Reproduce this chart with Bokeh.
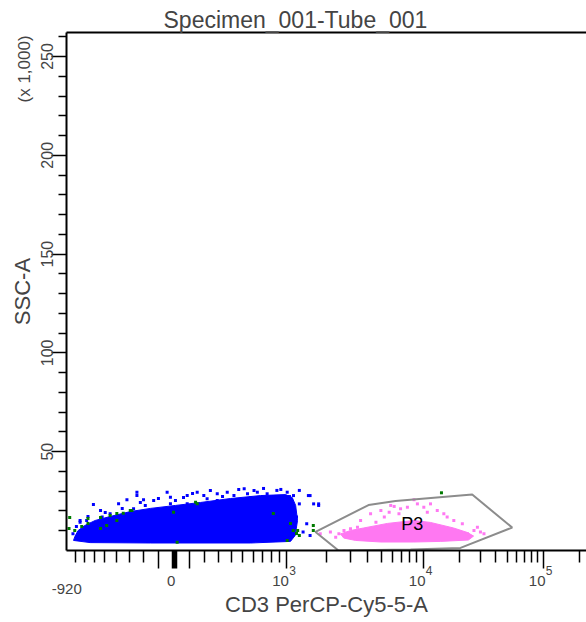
import numpy as np
from bokeh.plotting import figure
from bokeh.models import (Range1d, FixedTicker, LinearAxis, CustomJSTickFormatter)
from bokeh.core.properties import value
from bokeh.embed import file_html
from bokeh.resources import INLINE

# ---------------- data (x: CD3 PerCP-Cy5-5-A raw units, y: SSC-A in thousands) ----------------
title_text = "Specimen_001-Tube_001"
x_label = "CD3 PerCP-Cy5-5-A"
y_label = "SSC-A"
y_scale_note = "(x 1,000)"

# dense core of the blue (ungated) population
blue_core_x = [-830, -813, -775, -697, -591, -454, -294, -154, 8, 172, 394, 676, 986, 1110,
               1180, 1220, 1170, 1075, 575, -154, -643]
blue_core_y = [5.1, 7.1, 10.1, 12.7, 15.2, 17.2, 19.7, 21.3, 22.8, 24.3, 26.3, 27.8, 28.3, 26.8,
               22.8, 15.2, 7.6, 4.6, 3.8, 3.8, 4.0]
# sparse blue events around the core
blue_x = [-837, -795, -752, -752, -679, -609, -540, -525, -454, -384, -319, -270, -246, -246,
          -200, -188, -166, -132, -45, -24, -24, 8, 84, 84, 150, 195, 218, 291, 291, 368, 423,
          513, 544, 608, 642, 676, 750, 787, 869, 1013, 1075, 1136, 1198, 1260, 1346, 1434,
          1476, 1520, 1616, 1761, 1260, 1520, 1761,
          60, 119, 241, 331, 464, 575, 709, 811, 921, 1056, -355, -222, -101, -497, -665]
blue_y = [8.5, 12.1, 15.2, 14.3, 15.2, 23.3, 20.2, 16.9, 18.6, 23.6, 25.7, 21.1, 27.8, 29.5,
          25.7, 22.8, 18.6, 25.3, 29.5, 27.0, 23.6, 25.3, 27.8, 23.6, 29.5, 27.8, 26.2, 28.7,
          25.3, 29.5, 27.8, 31.2, 28.7, 30.4, 29.5, 25.3, 28.7, 17.7, 30.4, 29.5, 25.3, 27.8,
          16.9, 23.6, 9.3, 13.5, 27.8, 7.6, 23.6, 23.6, 30.4, 27.8, 22.8,
          26.8, 28.8, 30.4, 27.3, 30.9, 26.8, 31.4, 26.8, 30.9, 27.3, 21.3, 24.3, 26.3, 19.2, 17.2]
# green events
green_x = [-878, -887, -815, -733, -665, -665, -540, -540, -484, -454, -398, -398, -347, -294,
           -282, -4, 19, 139, 150, 824, 1013, 1075, 1130, 1198, 1223, 1260, 1607, 1607, 14200]
green_y = [16.7, 11.1, 10.1, 12.1, 13.7, 16.2, 16.7, 11.1, 12.7, 17.7, 18.7, 15.2, 18.9, 20.2,
           20.2, 19.4, 4.2, 24.4, 23.6, 18.7, 5.1, 13.7, 10.1, 8.6, 10.1, 7.6, 12.7, 10.1, 29.2]
# dense core of the pink P3 population
pink_core_x = [2547, 3010, 3750, 5550, 8570, 11500, 17900, 23400, 26300, 23800, 13900, 8570,
               4980, 3270, 2690]
pink_core_y = [8.4, 10.1, 11.4, 13.7, 15.2, 14.2, 11.4, 9.1, 7.3, 5.3, 4.6, 4.3, 4.3, 5.1, 6.3]
# sparse pink events
pink_x = [1810, 2150, 2350, 2480, 2700, 2855, 3010, 3380, 3560, 4200, 4590, 4980, 5270, 5710,
          5860, 6200, 6710, 6890, 7710, 8600, 9090, 10120, 10820, 11500, 13100, 14860, 15840,
          18000, 21200, 23370, 26500, 28300, 30000, 32100]
pink_y = [8.5, 9.3, 6.7, 8.5, 10.1, 6.7, 11.0, 11.8, 15.2, 18.6, 14.3, 20.2, 16.9, 19.4, 22.8,
          22.3, 18.6, 21.1, 21.9, 25.7, 23.6, 21.9, 19.4, 23.6, 20.2, 18.6, 16.9, 15.2, 13.5,
          8.5, 10.1, 11.8, 9.3, 8.5]
# gate P3
gate_x = [1669, 4058, 6338, 25611, 55170, 20464, 8115, 2463]
gate_y = [9.4, 23.0, 25.0, 28.3, 11.6, 1.3, 0.5, 0.0]
gate_name = "P3"
gate_name_x = [8345]
gate_name_y = [13.5]

# axis ticks
x_major_values = [-100, 0, 100, 1000, 10000, 100000]
x_label_values = [0, 1000, 10000, 100000]
x_label_bases = ["0", "10", "10", "10"]
x_label_exps = ["", "3", "4", "5"]
x_minor_values = [-800, -700, -600, -500, -400, -300, -200, 200, 300, 400, 500, 600, 700, 800,
                  900, 2000, 3000, 4000, 5000, 6000, 7000, 8000, 9000, 20000, 30000, 40000,
                  50000, 60000, 70000, 80000, 90000, 200000]
x_min_value = -920
x_min_label = "-920"
y_tick_values = [50, 100, 150, 200, 250]
y_minor_values = [10, 20, 30, 40, 60, 70, 80, 90, 110, 120, 130, 140, 160, 170, 180, 190,
                  210, 220, 230, 240, 260]
y_max_value = 262.144
y_note_at = 243.7


# ---------------- biexponential display transform ----------------
_KV = np.array([-920.0, 0.0, 1e3, 1e4, 1e5])
_KD = np.array([0.0, 107.7, 220.0, 356.7, 476.7])
_W = 500.0


def biex(v):
    v = np.asarray(v, dtype=float)
    d = np.interp(np.arcsinh(v / _W), np.arcsinh(_KV / _W), _KD)
    hi = v > 1e5
    d = np.where(hi, _KD[-1] + 120.0 * np.log10(np.maximum(v, 1.0) / 1e5), d)
    return d


def fixed_labels(positions, labels):
    return CustomJSTickFormatter(args=dict(vals=[float(v) for v in positions], labs=labels), code="""
        for (let i = 0; i < vals.length; i++) {
            if (Math.abs(tick - vals[i]) < 0.01) { return labs[i]; }
        }
        return "";
    """)


def bare_axis(**kw):
    base = dict(axis_line_color=None, major_tick_line_color=None, minor_tick_line_color=None,
                major_tick_out=0, major_tick_in=0, minor_tick_out=0, minor_tick_in=0,
                major_label_text_font=FONT)
    base.update(kw)
    return LinearAxis(**base)


FONT = "Liberation Sans"

p = figure(width=586, height=622, output_backend="svg", toolbar_location=None,
           x_axis_type=None, y_axis_type=None,
           x_range=Range1d(0, 520), y_range=Range1d(0, y_max_value),
           min_border_left=66, min_border_right=0, min_border_top=32, min_border_bottom=72,
           title=title_text)
p.outline_line_color = None
p.background_fill_color = "white"
p.border_fill_color = "white"

p.title.text_font = FONT
p.title.text_font_size = "23px"
p.title.text_font_style = "normal"
p.title.align = "left"
p.title.offset = 97
p.title.standoff = 0

# ---- x axis (biexponential): tick marks only
zero_d = float(biex(0))
major_d = [float(d) for d in biex(x_major_values)]
thick = [zero_d - 2, zero_d - 1, zero_d + 1, zero_d + 2]
xaxis = LinearAxis(
    ticker=FixedTicker(ticks=sorted(major_d + thick),
                       minor_ticks=[float(d) for d in biex(x_minor_values)]),
    formatter=CustomJSTickFormatter(code='return "";'),
    major_label_text_font_size="0px", major_label_standoff=0,
    major_tick_in=0, major_tick_out=18, minor_tick_in=0, minor_tick_out=12,
    axis_line_width=2, major_tick_line_width=1.5, minor_tick_line_width=1.5,
)
p.add_layout(xaxis, "below")

# row of base labels ("0", "10")
lab_d = biex(x_label_values)
base_pos = [float(d) - (3 if e == "" else 6) for d, e in zip(lab_d, x_label_exps)]
xbase = bare_axis(ticker=FixedTicker(ticks=base_pos, minor_ticks=[]),
                  formatter=fixed_labels(base_pos, x_label_bases),
                  major_label_text_font_size="15px", major_label_standoff=7)
p.add_layout(xbase, "below")

# superscript exponents
exp_pos = [float(d) + 6 for d, e in zip(lab_d, x_label_exps) if e]
exp_lab = [e for e in x_label_exps if e]
xexp = bare_axis(ticker=FixedTicker(ticks=exp_pos, minor_ticks=[]),
                 formatter=fixed_labels(exp_pos, exp_lab),
                 major_label_text_font_size="12px", major_label_standoff=-23)
p.add_layout(xexp, "below")

# axis minimum label and axis title
xmin_pos = [float(biex(x_min_value)) + 0.3]
xaxis2 = bare_axis(ticker=FixedTicker(ticks=xmin_pos, minor_ticks=[]),
                   formatter=fixed_labels(xmin_pos, [x_min_label]),
                   major_label_text_font_size="15px", major_label_standoff=-5,
                   axis_label=x_label, axis_label_text_font=FONT,
                   axis_label_text_font_size="22px", axis_label_text_font_style="normal",
                   axis_label_standoff=-5)
p.add_layout(xaxis2, "below")

# ---- y axis: ticks + labels
yaxis = LinearAxis(
    ticker=FixedTicker(ticks=y_tick_values, minor_ticks=y_minor_values),
    major_label_text_font=FONT, major_label_text_font_size="16px", major_label_standoff=-2,
    major_label_orientation="parallel",
    major_tick_in=0, major_tick_out=15, minor_tick_in=0, minor_tick_out=8,
    axis_line_width=2, major_tick_line_width=1.5, minor_tick_line_width=1.5,
)
p.add_layout(yaxis, "left")

# outer column: scale note and axis title
yaxis2 = bare_axis(ticker=FixedTicker(ticks=[y_note_at], minor_ticks=[]),
                   formatter=fixed_labels([y_note_at], [y_scale_note]),
                   major_label_text_font_size="17px", major_label_standoff=4,
                   major_label_orientation="parallel",
                   axis_label=y_label, axis_label_text_font=FONT,
                   axis_label_text_font_size="22px", axis_label_text_font_style="normal",
                   axis_label_standoff=-22)
p.add_layout(yaxis2, "left")

# ---- top frame line
top = LinearAxis(ticker=FixedTicker(ticks=[]), major_tick_out=0, major_tick_in=0,
                 minor_tick_out=0, minor_tick_in=0, major_label_text_font_size="0px",
                 axis_line_width=2)
p.add_layout(top, "above")

# ---- events
BLUE, PINK, GREEN = "#0000FF", "#FF78F2", "#007A00"
p.patch(biex(blue_core_x), blue_core_y, fill_color=BLUE, line_color=BLUE, line_width=1)
p.scatter(biex(blue_x), blue_y, marker="square", size=3, fill_color=BLUE, line_color=None)
p.patch(biex(pink_core_x), pink_core_y, fill_color=PINK, line_color=PINK, line_width=1)
p.scatter(biex(pink_x), pink_y, marker="square", size=3, fill_color=PINK, line_color=None)
p.scatter(biex(green_x), green_y, marker="square", size=3, fill_color=GREEN, line_color=None)

# ---- gate
gx = biex(gate_x)
p.patch(np.append(gx, gx[0]), gate_y + [gate_y[0]], fill_color=None,
        line_color="#8C8C8C", line_width=2)
p.text(biex(gate_name_x), gate_name_y, text=[gate_name], text_font=value(FONT),
       text_font_size="18px", text_align="center", text_baseline="middle", text_color="black")

open("out.html", "w").write(file_html(p, INLINE))
